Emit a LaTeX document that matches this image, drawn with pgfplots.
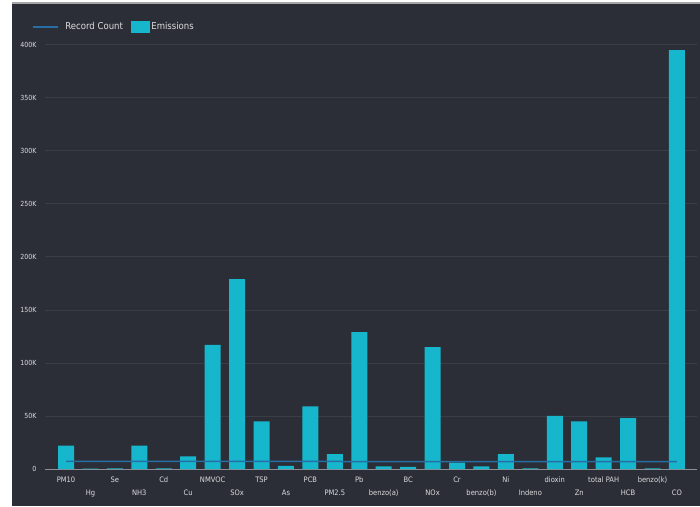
\documentclass[border=0pt]{standalone}
\usepackage{pgfplots}
\pgfplotsset{compat=1.18}
\usepackage{fontspec}
\setmainfont{DejaVu Sans Condensed}
\definecolor{bg}{RGB}{43,46,55}
\definecolor{barc}{RGB}{22,182,204}
\definecolor{linec}{RGB}{38,110,165}
\definecolor{gridc}{RGB}{58,61,70}
\definecolor{txt}{RGB}{220,220,220}
\definecolor{zeroc}{RGB}{140,143,150}
\newcommand{\lo}[1]{\raisebox{-13pt}{#1}}
\begin{document}
\begin{tikzpicture}[x=1pt,y=1pt]
\path[use as bounding box] (0,0) rectangle (700,506);
\fill[white] (0,0) rectangle (700,506);
\fill[bg] (12,0) rectangle (700,503);
\draw[gray!70, line width=1.2pt] (12,503) -- (700,503);
\begin{axis}[
  at={(45pt,37pt)}, anchor=south west, scale only axis,
  width=652pt, height=455pt,
  xmin=-0.86, xmax=25.82, ymin=0, ymax=429000,
  axis x line*=bottom, axis y line*=left,
  x axis line style={draw=zeroc, line width=0.8pt, -},
  y axis line style={draw=none},
  tick style={draw=none},
  ymajorgrids, grid style={gridc, line width=0.8pt},
  scaled y ticks=false,
  ytick={0,50000,100000,150000,200000,250000,300000,350000,400000},
  yticklabels={0,50K,100K,150K,200K,250K,300K,350K,400K},
  xtick={0,...,25},
  xticklabels={PM10,\lo{Hg},Se,\lo{NH3},Cd,\lo{Cu},NMVOC,\lo{SOx},TSP,\lo{As},PCB,\lo{PM2.5},Pb,\lo{benzo(a)},BC,\lo{NOx},Cr,\lo{benzo(b)},Ni,\lo{Indeno},dioxin,\lo{Zn},total PAH,\lo{HCB},benzo(k),\lo{CO}},
  xticklabel style={anchor=north, text height=6pt, yshift=-4pt, font=\fontsize{7.5}{9}\selectfont, text=txt},
  yticklabel style={font=\fontsize{7}{8}\selectfont, text=txt, xshift=-5pt},
  legend style={at={(-0.025,0.99)}, anchor=north west, draw=none, fill=none,
    legend columns=2, text=txt, font=\fontsize{9.5}{11}\selectfont,
    /tikz/every even column/.append style={column sep=6pt}},
]
\addlegendimage{legend image code/.code={\draw[linec, line width=1.5pt] (-2pt,0pt) -- (23pt,0pt);}}
\addlegendentry{\hspace{5pt}Record Count}
\addlegendimage{legend image code/.code={\fill[barc] (0pt,-5.5pt) rectangle (18pt,5.5pt);}}
\addlegendentry{Emissions}
\addplot[ybar, bar width=16pt, fill=barc, draw=none, forget plot] coordinates {
(0,22000) (1,300) (2,600) (3,22000) (4,500) (5,12000) (6,117000) (7,179000)
(8,45000) (9,3000) (10,59000) (11,14000) (12,129000) (13,2500) (14,2000)
(15,115000) (16,6000) (17,2500) (18,14000) (19,500) (20,50000) (21,45000)
(22,11000) (23,48000) (24,500) (25,395000)};
\addplot[linec, line width=1.5pt, forget plot] coordinates {
(0,7200) (1,7200) (2,7200) (3,7200) (4,7200) (5,7200) (6,7200) (7,7200)
(8,7100) (9,7100) (10,7100) (11,7100) (12,7000) (13,7000) (14,7000)
(15,7000) (16,7000) (17,7000) (18,7000) (19,7000) (20,7000) (21,7000)
(22,7000) (23,7000) (24,7000) (25,7000)};
\end{axis}
\end{tikzpicture}
\end{document}
